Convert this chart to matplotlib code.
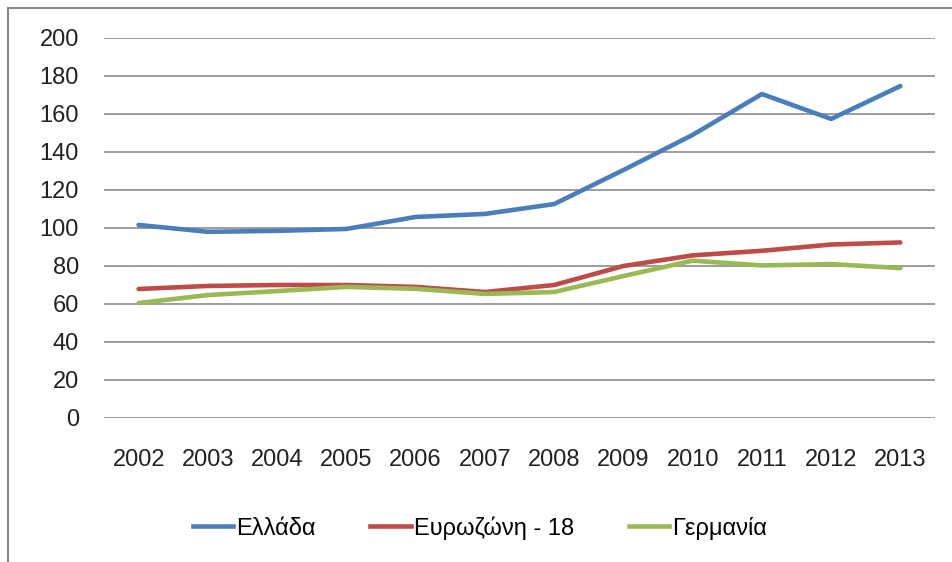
import matplotlib
matplotlib.use('Agg')
import matplotlib.pyplot as plt
from matplotlib.lines import Line2D

# Data
years = ['2002', '2003', '2004', '2005', '2006', '2007',
         '2008', '2009', '2010', '2011', '2012', '2013']
greece = [101.6, 98.0, 98.5, 99.5, 105.8, 107.4, 112.6, 130.5, 149.0, 170.5, 157.4, 174.7]
eurozone = [67.9, 69.5, 70.0, 70.0, 69.0, 66.3, 70.0, 80.0, 85.6, 88.0, 91.3, 92.4]
germany = [60.5, 64.7, 66.8, 69.0, 68.0, 65.3, 66.3, 74.7, 82.8, 80.3, 81.0, 78.9]
labels = ['Ελλάδα', 'Ευρωζώνη - 18', 'Γερμανία']
colors = ['#4a7ebb', '#be4b48', '#98b954']

plt.rcParams['font.family'] = ['Liberation Sans', 'DejaVu Sans']

fig = plt.figure(figsize=(9.52, 5.62), dpi=100)
ax = fig.add_axes([104 / 952, 144 / 562, 831 / 952, 380 / 562])

x = list(range(len(years)))
for vals, lab, col in zip([greece, eurozone, germany], labels, colors):
    ax.plot(x, vals, color=col, lw=3.3, label=lab, solid_capstyle='round')

ax.set_xlim(-0.5, len(years) - 0.5)
ax.set_ylim(0, 200)
ax.set_yticks(range(0, 201, 20))
ax.set_xticks(x)
ax.set_xticklabels(years)
ax.yaxis.grid(True, color='#8c8c8c', lw=1.2)
ax.set_axisbelow(True)
for s in ax.spines.values():
    s.set_visible(False)
ax.tick_params(axis='y', length=0, pad=18, labelsize=17, colors='#222222')
ax.tick_params(axis='x', length=0, pad=22, labelsize=17, colors='#222222')

handles = [Line2D([], [], color=c, lw=3.3) for c in colors]
fig.legend(handles, labels, loc='center', bbox_to_anchor=(480 / 952, 1 - 528 / 562),
           ncol=3, frameon=False, fontsize=17, handlelength=1.7,
           handletextpad=0.15, columnspacing=2.3)

# chart frame (top and left edges visible)
fig.add_artist(Line2D([8 / 952, 8 / 952], [0, 1 - 8 / 562], color='#888888', lw=1.5))
fig.add_artist(Line2D([8 / 952, 1], [1 - 8 / 562, 1 - 8 / 562], color='#888888', lw=1.5))

fig.savefig('out.png', dpi=100)
